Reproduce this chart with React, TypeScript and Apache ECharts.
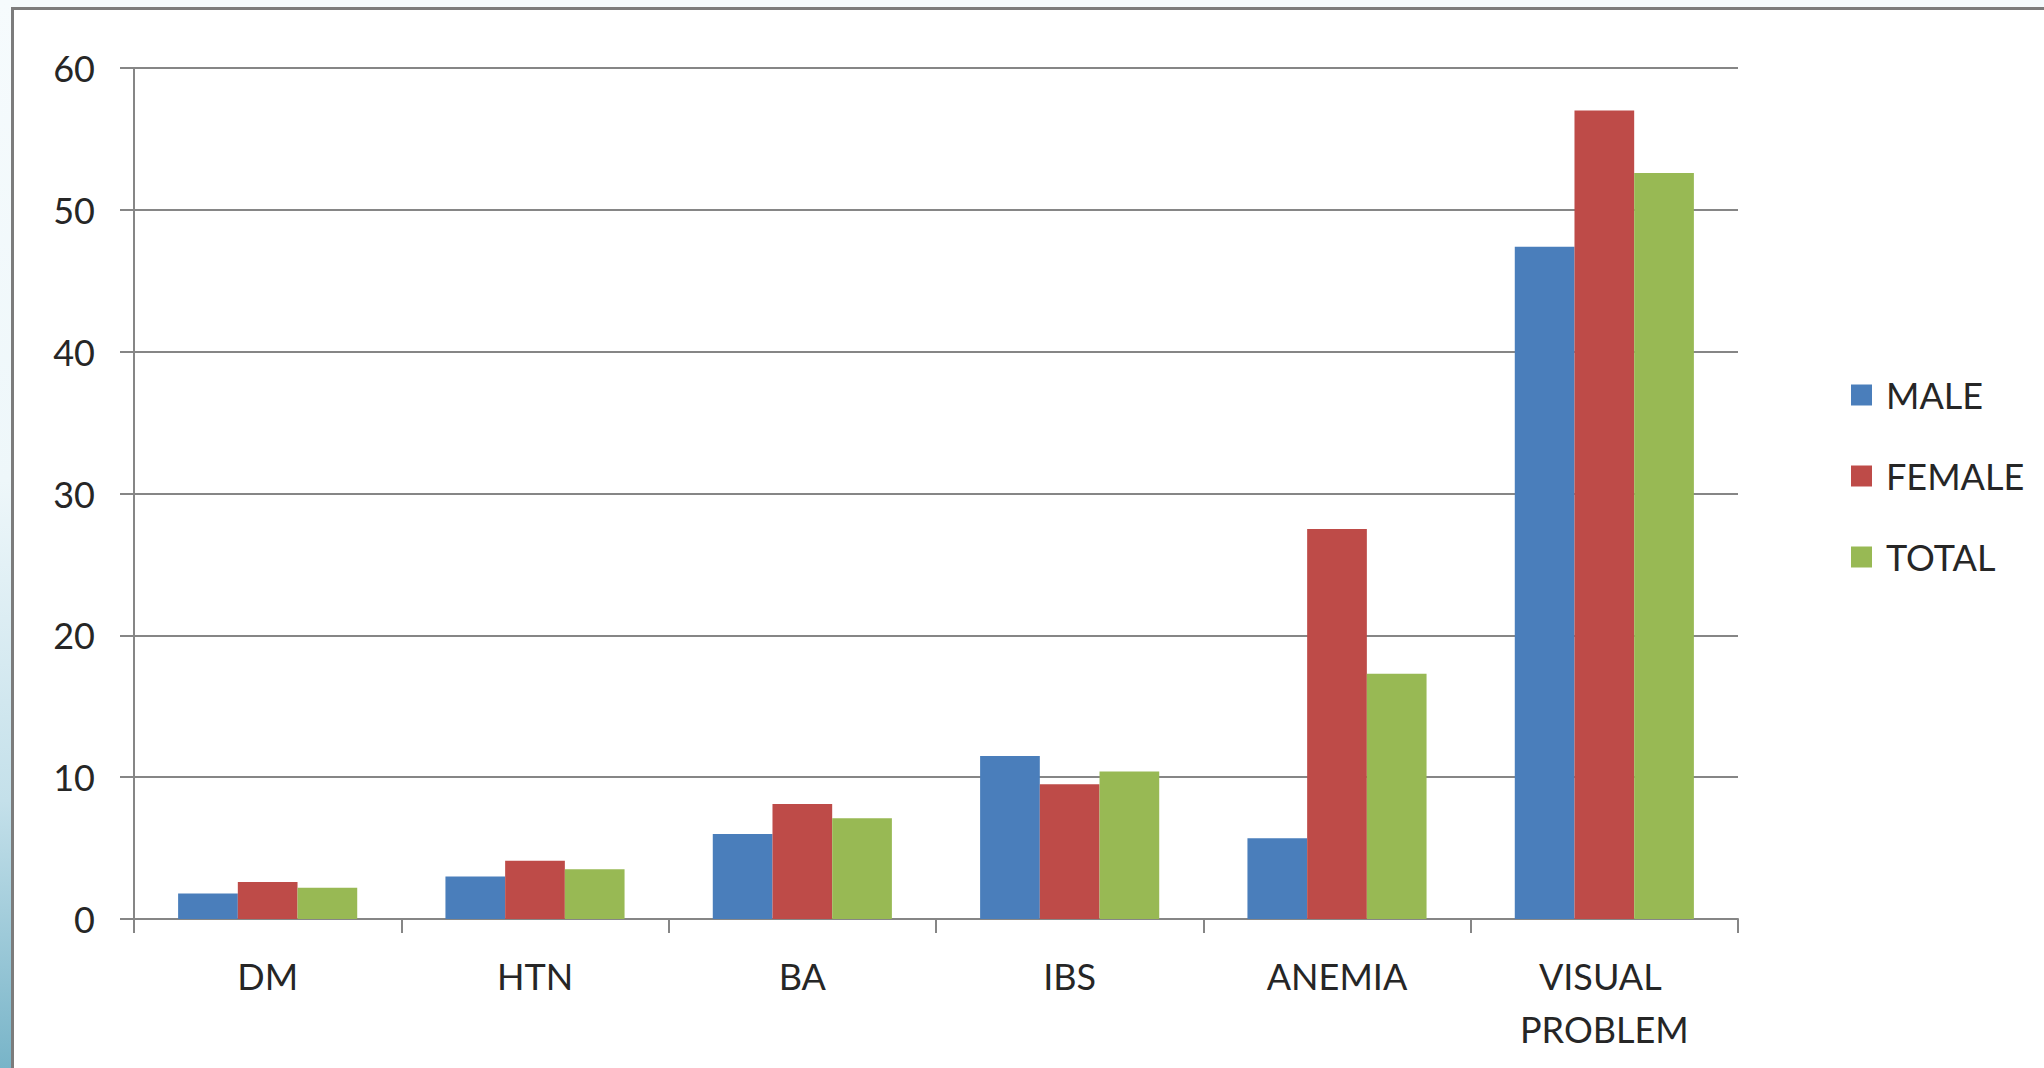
import React, { useEffect, useRef } from "react";
import * as echarts from "echarts";

const categories = ["DM", "HTN", "BA", "IBS", "ANEMIA", "VISUAL PROBLEM"];
const maleValues = [1.8, 3.0, 6.0, 11.5, 5.7, 47.4];
const femaleValues = [2.6, 4.1, 8.1, 9.5, 27.5, 57.0];
const totalValues = [2.2, 3.5, 7.1, 10.4, 17.3, 52.6];
const seriesNames = ["MALE", "FEMALE", "TOTAL"];
const yTicks = { min: 0, max: 60, interval: 10 };

const FONT = "Lato, 'Open Sans', sans-serif";
const AXIS_COLOR = "#868686";
const TEXT_COLOR = "#262626";

export default function App() {
  const ref = useRef<HTMLDivElement>(null);
  useEffect(() => {
    if (!ref.current) return;
    const chart = echarts.init(ref.current, undefined, { renderer: "svg" });
    chart.setOption({
      animation: false,
      backgroundColor: "#ffffff",
      color: ["#4a7ebb", "#be4b48", "#98b954"],
      textStyle: { fontFamily: FONT },
      graphic: [
        {
          type: "rect",
          shape: { x: 0, y: 0, width: 2044, height: 8 },
          style: { fill: "#f4fafc" },
          silent: true,
        },
        {
          type: "rect",
          shape: { x: 0, y: 0, width: 11, height: 1068 },
          style: {
            fill: new echarts.graphic.LinearGradient(0, 0, 0, 1, [
              { offset: 0, color: "#f6fbfd" },
              { offset: 0.45, color: "#eef7fa" },
              { offset: 0.75, color: "#c4e0ea" },
              { offset: 1, color: "#78b4c8" },
            ]),
          },
          silent: true,
        },
        {
          type: "rect",
          shape: { x: 11, y: 7, width: 2044, height: 3 },
          style: { fill: "#7c7c7c" },
          silent: true,
        },
        {
          type: "rect",
          shape: { x: 11, y: 7, width: 3, height: 1068 },
          style: { fill: "#7c7c7c" },
          silent: true,
        },
      ],
      grid: { left: 134, right: 306, top: 68, bottom: 149, containLabel: false },
      legend: {
        orient: "vertical",
        left: 1846,
        top: 370,
        itemWidth: 21,
        itemHeight: 21,
        itemGap: 41,
        icon: "rect",
        data: seriesNames,
        textStyle: {
          fontFamily: FONT,
          fontSize: 36,
          color: TEXT_COLOR,
          lineHeight: 40,
          padding: [0, 0, 0, 9],
        },
      },
      xAxis: {
        type: "category",
        data: categories,
        axisLine: { show: true, lineStyle: { color: AXIS_COLOR, width: 2 } },
        axisTick: { show: true, length: 14, lineStyle: { color: AXIS_COLOR, width: 2 } },
        axisLabel: {
          fontFamily: FONT,
          fontSize: 36,
          color: TEXT_COLOR,
          margin: 30,
          lineHeight: 53,
          width: 230,
          overflow: "break",
          interval: 0,
        },
        splitLine: { show: false },
      },
      yAxis: {
        type: "value",
        min: yTicks.min,
        max: yTicks.max,
        interval: yTicks.interval,
        axisLine: { show: true, lineStyle: { color: AXIS_COLOR, width: 2 } },
        axisTick: { show: true, length: 14, lineStyle: { color: AXIS_COLOR, width: 2 } },
        axisLabel: {
          fontFamily: FONT,
          fontSize: 36,
          color: TEXT_COLOR,
          margin: 39,
        },
        splitLine: { show: true, lineStyle: { color: AXIS_COLOR, width: 2 } },
      },
      series: [
        { name: seriesNames[0], type: "bar", data: maleValues, barGap: "0%", barCategoryGap: "33%" },
        { name: seriesNames[1], type: "bar", data: femaleValues, barGap: "0%", barCategoryGap: "33%" },
        { name: seriesNames[2], type: "bar", data: totalValues, barGap: "0%", barCategoryGap: "33%" },
      ],
    });
    return () => chart.dispose();
  }, []);
  return (
    <div
      ref={ref}
      style={{ position: "absolute", left: 0, top: 0, width: 2044, height: 1068 }}
    />
  );
}
